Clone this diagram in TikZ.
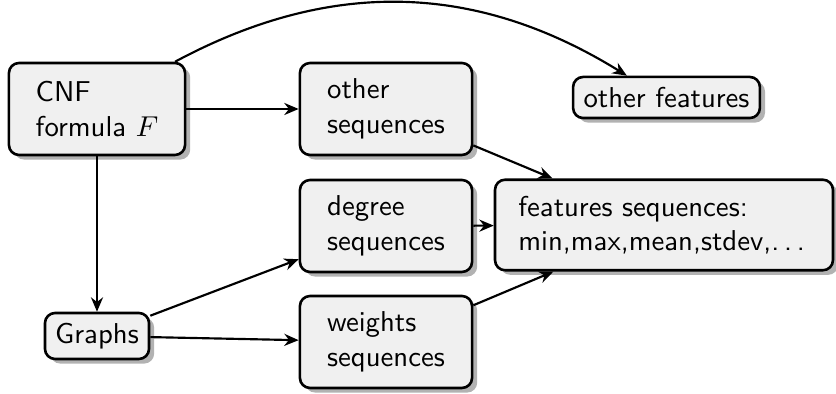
\documentclass[tikz,border=0pt]{standalone}
\usetikzlibrary{shadows,arrows.meta}
\begin{document}
\begin{tikzpicture}[x=0.348pt,y=-0.348pt, font=\sffamily,
  box/.style={draw, line width=0.9pt, rounded corners=3.5pt, fill=black!6,
    drop shadow={shadow xshift=1.8pt, shadow yshift=-1.6pt, fill=black!30, opacity=1},
    align=left, inner sep=0pt},
  arr/.style={-{Stealth[length=5pt,width=4.2pt]}, line width=0.75pt}]
\useasboundingbox (0,0) rectangle (836,394);
\node[box, minimum width=61.3pt, minimum height=32pt] (cnf) at (97,109) {CNF\\formula $F$};
\node[box, minimum width=59.9pt, minimum height=32pt] (oseq) at (386,109) {other\\sequences};
\node[box, minimum width=59.9pt, minimum height=32pt] (dseq) at (386,226) {degree\\sequences};
\node[box, minimum width=59.9pt, minimum height=32pt] (wseq) at (386,342) {weights\\sequences};
\node[box, minimum width=117.6pt, minimum height=31.5pt] (feat) at (664,225) {features sequences:\\min,max,mean,stdev,.\kern1.67pt.\kern1.67pt.\kern1.67pt};
\node[box, minimum width=36.2pt, minimum height=16pt] (graphs) at (97,336) {Graphs};
\node[box, minimum width=65pt, minimum height=14.3pt] (ofeat) at (666.5,97.5) {other features};
\draw[arr] (cnf) -- (oseq);
\draw[arr] (cnf) -- (graphs);
\draw[arr] (cnf) to[bend left=30] (ofeat);
\draw[arr] (graphs) -- (dseq);
\draw[arr] (graphs) -- (wseq);
\draw[arr] (oseq) -- (feat);
\draw[arr] (dseq) -- (feat);
\draw[arr] (wseq) -- (feat);
\end{tikzpicture}
\end{document}
